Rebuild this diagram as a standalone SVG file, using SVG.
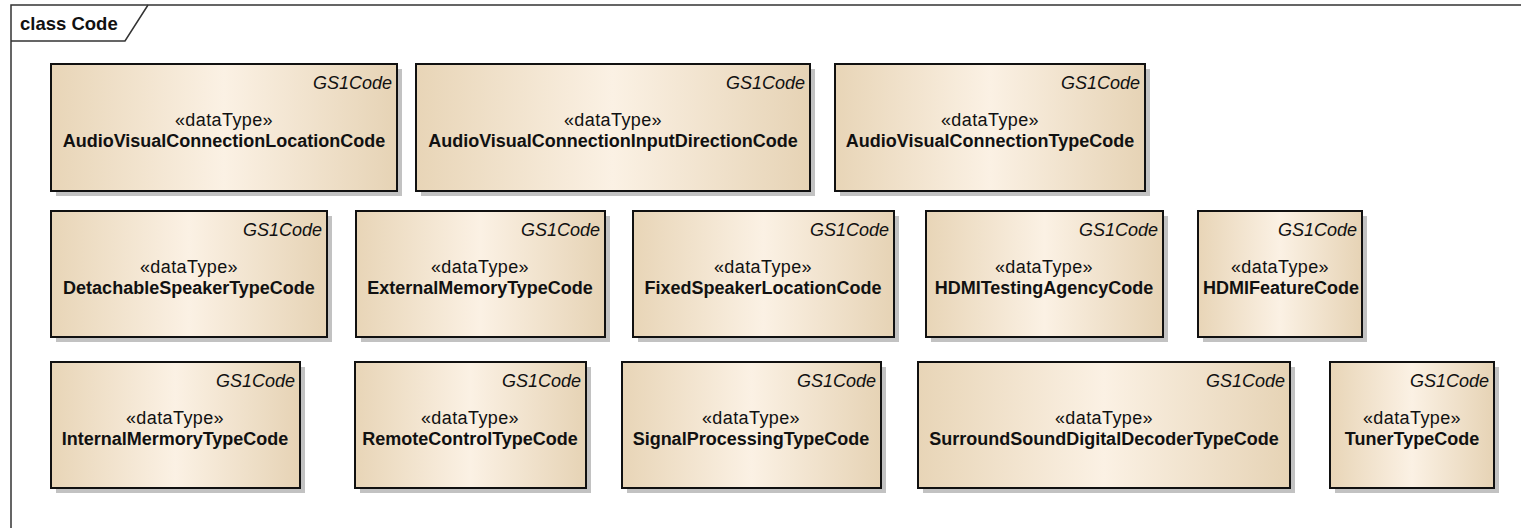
<svg xmlns="http://www.w3.org/2000/svg" width="1521" height="528" viewBox="0 0 1521 528">
<style>
.frame{fill:none;stroke:#333;stroke-width:1.5}
.shadow{fill:#c2c2c2}
.box{fill:url(#tan);stroke:#111;stroke-width:2}
.tag{font-family:"Liberation Sans",Arial,sans-serif;font-style:italic;font-size:18px;fill:#111;text-anchor:end}
.st{font-family:"Liberation Sans",Arial,sans-serif;font-size:18px;fill:#111;text-anchor:middle;letter-spacing:0.4px}
.nm{font-family:"Liberation Sans",Arial,sans-serif;font-weight:bold;font-size:18px;fill:#111;text-anchor:middle}
.title{font-family:"Liberation Sans",Arial,sans-serif;font-weight:bold;font-size:18.5px;fill:#111}
</style>
<defs>
<linearGradient id="tan" x1="0" y1="0" x2="1" y2="0">
<stop offset="0" stop-color="#e8d5b7"/>
<stop offset="0.5" stop-color="#fbf1e4"/>
<stop offset="1" stop-color="#e6d3b5"/>
</linearGradient>
</defs>
<rect width="1521" height="528" fill="#ffffff"/>
<g id="frame">
<path class="frame" d="M11,540 L11,5 L1530,5"/>
<path class="frame" d="M11,41 L125,41 L148,5"/>
<text class="title" x="20" y="30">class Code</text>
</g>
<g id="n1">
<rect class="shadow" x="56" y="69" width="346" height="127"/>
<rect class="box" x="51" y="64" width="346" height="127"/>
<text class="tag" x="392" y="89">GS1Code</text>
<text class="st" x="224" y="126">«dataType»</text>
<text class="nm" x="224" y="147">AudioVisualConnectionLocationCode</text>
</g>
<g id="n2">
<rect class="shadow" x="421" y="69" width="394" height="127"/>
<rect class="box" x="416" y="64" width="394" height="127"/>
<text class="tag" x="805" y="89">GS1Code</text>
<text class="st" x="613" y="126">«dataType»</text>
<text class="nm" x="613" y="147">AudioVisualConnectionInputDirectionCode</text>
</g>
<g id="n3">
<rect class="shadow" x="840" y="69" width="310" height="127"/>
<rect class="box" x="835" y="64" width="310" height="127"/>
<text class="tag" x="1140" y="89">GS1Code</text>
<text class="st" x="990" y="126">«dataType»</text>
<text class="nm" x="990" y="147">AudioVisualConnectionTypeCode</text>
</g>
<g id="n4">
<rect class="shadow" x="56" y="216" width="276" height="126"/>
<rect class="box" x="51" y="211" width="276" height="126"/>
<text class="tag" x="322" y="236">GS1Code</text>
<text class="st" x="189" y="273">«dataType»</text>
<text class="nm" x="189" y="294">DetachableSpeakerTypeCode</text>
</g>
<g id="n5">
<rect class="shadow" x="361" y="216" width="249" height="126"/>
<rect class="box" x="356" y="211" width="249" height="126"/>
<text class="tag" x="600" y="236">GS1Code</text>
<text class="st" x="480" y="273">«dataType»</text>
<text class="nm" x="480" y="294">ExternalMemoryTypeCode</text>
</g>
<g id="n6">
<rect class="shadow" x="638" y="216" width="261" height="126"/>
<rect class="box" x="633" y="211" width="261" height="126"/>
<text class="tag" x="889" y="236">GS1Code</text>
<text class="st" x="763" y="273">«dataType»</text>
<text class="nm" x="763" y="294">FixedSpeakerLocationCode</text>
</g>
<g id="n7">
<rect class="shadow" x="931" y="216" width="237" height="126"/>
<rect class="box" x="926" y="211" width="237" height="126"/>
<text class="tag" x="1158" y="236">GS1Code</text>
<text class="st" x="1044" y="273">«dataType»</text>
<text class="nm" x="1044" y="294">HDMITestingAgencyCode</text>
</g>
<g id="n8">
<rect class="shadow" x="1203" y="216" width="164" height="126"/>
<rect class="box" x="1198" y="211" width="164" height="126"/>
<text class="tag" x="1357" y="236">GS1Code</text>
<text class="st" x="1280" y="273">«dataType»</text>
<text class="nm" x="1281" y="294">HDMIFeatureCode</text>
</g>
<g id="n9">
<rect class="shadow" x="56" y="367" width="249" height="126"/>
<rect class="box" x="51" y="362" width="249" height="126"/>
<text class="tag" x="295" y="387">GS1Code</text>
<text class="st" x="175" y="424">«dataType»</text>
<text class="nm" x="175" y="445">InternalMermoryTypeCode</text>
</g>
<g id="n10">
<rect class="shadow" x="360" y="367" width="231" height="126"/>
<rect class="box" x="355" y="362" width="231" height="126"/>
<text class="tag" x="581" y="387">GS1Code</text>
<text class="st" x="470" y="424">«dataType»</text>
<text class="nm" x="470" y="445">RemoteControlTypeCode</text>
</g>
<g id="n11">
<rect class="shadow" x="627" y="367" width="259" height="126"/>
<rect class="box" x="622" y="362" width="259" height="126"/>
<text class="tag" x="876" y="387">GS1Code</text>
<text class="st" x="751" y="424">«dataType»</text>
<text class="nm" x="751" y="445">SignalProcessingTypeCode</text>
</g>
<g id="n12">
<rect class="shadow" x="923" y="367" width="372" height="126"/>
<rect class="box" x="918" y="362" width="372" height="126"/>
<text class="tag" x="1285" y="387">GS1Code</text>
<text class="st" x="1104" y="424">«dataType»</text>
<text class="nm" x="1104" y="445">SurroundSoundDigitalDecoderTypeCode</text>
</g>
<g id="n13">
<rect class="shadow" x="1335" y="367" width="164" height="126"/>
<rect class="box" x="1330" y="362" width="164" height="126"/>
<text class="tag" x="1489" y="387">GS1Code</text>
<text class="st" x="1412" y="424">«dataType»</text>
<text class="nm" x="1412" y="445">TunerTypeCode</text>
</g>
<g id="connectors"></g>
</svg>
